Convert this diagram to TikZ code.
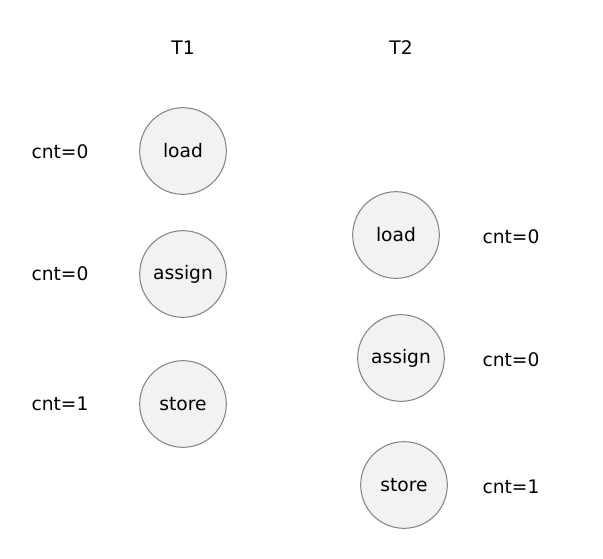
\documentclass[tikz,border=0pt]{standalone}
\usepackage{fontspec}
\setmainfont{DejaVu Sans}
\begin{document}
\begin{tikzpicture}[x=0.75pt,y=-0.75pt,
    op node/.style={circle,fill=gray!10,draw=gray,line width=0.75pt,minimum size=65pt,inner sep=0pt,font=\fontsize{14}{16}\selectfont},
    cnt node/.style={font=\fontsize{14}{16}\selectfont}]
    \useasboundingbox (0,0) rectangle (603,558);
    \node[cnt node] (t1) at (183,48) {T1};
    \node[cnt node] (t2) at (401,48) {T2};

    \node[op node] (load1) at (183,151) {load};
    \node[op node] (assign1) at (183,274) {assign};
    \node[op node] (store1) at (183,404) {store};
    \node[cnt node] (c1) at (60,152) {cnt=0};
    \node[cnt node] (c2) at (60,274) {cnt=0};
    \node[cnt node] (c3) at (60,404) {cnt=1};

    \node[op node] (load2) at (396,235) {load};
    \node[op node] (assign2) at (401,358) {assign};
    \node[op node] (store2) at (404,485) {store};
    \node[cnt node] (c4) at (511,237) {cnt=0};
    \node[cnt node] (c5) at (511,360) {cnt=0};
    \node[cnt node] (c6) at (511,487) {cnt=1};
\end{tikzpicture}
\end{document}
